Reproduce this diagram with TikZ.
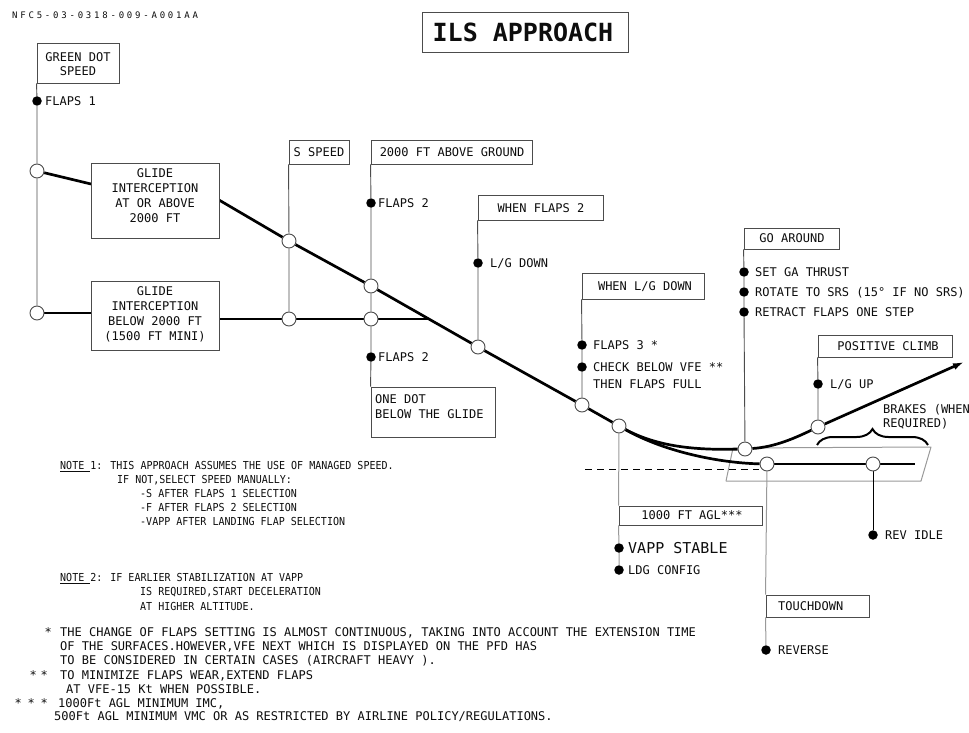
\documentclass[tikz,border=0pt]{standalone}
\usepackage{fontspec}
\setmainfont{DejaVu Sans Mono}
\newfontfamily\notefamily{DejaVu Sans Mono}[FakeStretch=0.91]
\usetikzlibrary{arrows.meta,decorations.pathreplacing}
\definecolor{inkc}{gray}{0.05}
\definecolor{rulec}{gray}{0.3}
\definecolor{lightc}{gray}{0.6}
\pgfdeclarelayer{back}
\pgfsetlayers{back,main}
\makeatletter
\newcommand\spreadtext[2]{\@tfor\spr@c:=#2\do{\makebox[#1][l]{\spr@c}}}
\makeatother

\begin{document}
\begin{tikzpicture}[x=1pt,y=-1pt,
  every node/.style={text=inkc},
  lab/.style={font=\fontsize{12}{15}\selectfont, inner sep=0pt, text height=8.7pt, text depth=0pt, anchor=west},
  blk/.style={font=\fontsize{12}{15}\selectfont, inner sep=0pt, align=center},
  notetext/.style={font=\notefamily\fontsize{11}{14}\selectfont, inner sep=0pt, align=left, anchor=north west},
  tagbox/.style={draw=rulec, line width=0.9pt, fill=white, inner sep=0pt},
  trackline/.style={line width=2.7pt, black},
  stem/.style={line width=0.9pt, rulec},
  stemlight/.style={line width=1pt, lightc},
  ring/.style={circle, draw=rulec, fill=white, line width=0.9pt, minimum size=14pt, inner sep=0pt},
  blob/.style={circle, fill=black, minimum size=9.5pt, inner sep=0pt},
]
\useasboundingbox (0,0) rectangle (969,733);

% ---------- reference number and title ----------
\node[anchor=west, inner sep=0pt, font=\fontsize{9}{10}\selectfont, text height=6.6pt, text depth=0pt] (docref) at (12,15) {\spreadtext{8.2pt}{NFC5-03-0318-009-A001AA}};
\node[tagbox, minimum width=206pt, minimum height=40pt] (titlebox) at (525,32) {};
\node[lab, anchor=center, font=\bfseries\fontsize{25}{30}\selectfont, text height=18.2pt] (title) at (523,32) {ILS APPROACH};

% ---------- event boxes ----------
\node[tagbox, minimum width=82pt, minimum height=40pt] (gds) at (78,63) {};
\node[blk] (gdst) at (78,64) {GREEN DOT\\[-1pt]SPEED};
\node[tagbox, minimum width=128pt, minimum height=75pt] (g1) at (155,200.5) {};
\node[blk] (g1t) at (155,195.5) {GLIDE\\INTERCEPTION\\AT OR ABOVE\\2000 FT};
\node[tagbox, minimum width=128pt, minimum height=69pt] (g2) at (155,315.5) {};
\node[blk] (g2t) at (155,314) {GLIDE\\INTERCEPTION\\BELOW 2000 FT\\(1500 FT MINI)};
\node[tagbox, minimum width=60pt, minimum height=24pt] (sspd) at (319,152) {};
\node[lab, anchor=center] (sspdt) at (319,152) {S SPEED};
\node[tagbox, minimum width=161pt, minimum height=24pt] (b2000) at (451.5,152) {};
\node[lab, anchor=center] (b2000t) at (452,152) {2000 FT ABOVE GROUND};
\node[tagbox, minimum width=125pt, minimum height=25pt] (wf2) at (540.5,207.5) {};
\node[lab, anchor=center] (wf2t) at (541,208) {WHEN FLAPS 2};
\node[tagbox, minimum width=122pt, minimum height=26pt] (wlg) at (643,286) {};
\node[lab, anchor=center] (wlgt) at (645,286) {WHEN L/G DOWN};
\node[tagbox, minimum width=124pt, minimum height=50pt] (onedot) at (433,412) {};
\node[blk, align=left, anchor=north west] (onedott) at (375,394.6) {ONE DOT\\BELOW THE GLIDE};
\node[tagbox, minimum width=95pt, minimum height=21pt] (ga) at (791.5,238.5) {};
\node[lab, anchor=center] (gat) at (792,238.5) {GO AROUND};
\node[tagbox, minimum width=134pt, minimum height=22pt] (pc) at (885,346) {};
\node[lab, anchor=center] (pct) at (888,346) {POSITIVE CLIMB};
\node[tagbox, minimum width=143pt, minimum height=19pt] (agl) at (690.5,515.5) {};
\node[lab, anchor=center] (aglt) at (692,515.5) {1000 FT AGL***};
\node[tagbox, minimum width=103pt, minimum height=22pt] (td) at (817.5,606) {};
\node[lab] (tdt) at (778,606) {TOUCHDOWN};

% ---------- path points ----------
\node[ring] (c1) at (37,171) {};
\node[ring] (c2) at (37,313) {};
\node[ring] (c3) at (289,241) {};
\node[ring] (c4) at (289,319) {};
\node[ring] (c5) at (371,286) {};
\node[ring] (c6) at (371,319) {};
\node[ring] (c7) at (478,347) {};
\node[ring] (c8) at (582,405) {};
\node[ring] (c9) at (619,426) {};
\node[ring] (c10) at (745,449) {};
\node[ring] (c11) at (767,464) {};
\node[ring] (c12) at (818,427) {};
\node[ring] (c13) at (873,464) {};

\coordinate (g1in) at (91,184);
\coordinate (g1out) at (219,200);
\coordinate (g2in) at (91,313);
\coordinate (g2out) at (219,319);
\coordinate (merge) at (430,319);
\coordinate (tip) at (964,362);
\coordinate (gend) at (915,464);
\coordinate (dsh) at (585,469);
\coordinate (dshend) at (759,469);
\coordinate (rw1) at (733,448);
\coordinate (rw2) at (931,447);
\coordinate (rw3) at (921,481);
\coordinate (rw4) at (726,481);
\coordinate (brl) at (817,445);
\coordinate (brr) at (928,445);

% ---------- action dots and their labels ----------
\node[blob] (dF1) at (37,101) {};
\node[lab] (tF1) at (45,101) {FLAPS 1};
\node[blob] (dF2a) at (371,203) {};
\node[lab] (tF2a) at (378,203) {FLAPS 2};
\node[blob] (dF2b) at (371,357) {};
\node[lab] (tF2b) at (378,357) {FLAPS 2};
\node[blob] (dLG) at (478,263) {};
\node[lab] (tLG) at (490,263) {L/G DOWN};
\node[blob] (dF3) at (582,345) {};
\node[lab] (tF3) at (593,345) {FLAPS 3 *};
\node[blob] (dCHK) at (582,367) {};
\node[lab] (tCHK) at (593,367) {CHECK BELOW VFE **};
\node[lab] (tFULL) at (593,384) {THEN FLAPS FULL};
\node[blob] (dGA1) at (744,272) {};
\node[lab] (tGA1) at (755,272) {SET GA THRUST};
\node[blob] (dGA2) at (744,292) {};
\node[lab] (tGA2) at (755,292) {ROTATE TO SRS (15° IF NO SRS)};
\node[blob] (dGA3) at (744,312) {};
\node[lab] (tGA3) at (755,312) {RETRACT FLAPS ONE STEP};
\node[blob] (dLGU) at (818,384) {};
\node[lab] (tLGU) at (830,384) {L/G UP};
\node[blob] (dVAPP) at (619,548) {};
\node[lab, font=\fontsize{15}{18}\selectfont, text height=10.9pt] (tVAPP) at (628,548) {VAPP STABLE};
\node[blob] (dLDG) at (619,570) {};
\node[lab] (tLDG) at (628,570) {LDG CONFIG};
\node[blob] (dRI) at (873,535) {};
\node[lab] (tRI) at (885,535) {REV IDLE};
\node[blob] (dREV) at (766,650) {};
\node[lab] (tREV) at (778,650) {REVERSE};
\node[lab] (tBRK1) at (883,409) {BRAKES (WHEN};
\node[lab] (tBRK2) at (883,423) {REQUIRED)};

% ---------- notes ----------
\node[notetext] (note1) at (60,461) {\underline{NOTE\ }1: THIS APPROACH ASSUMES THE USE OF MANAGED SPEED.\\
\hspace*{57pt}IF NOT,SELECT SPEED MANUALLY:\\
\hspace*{80pt}-S AFTER FLAPS 1 SELECTION\\
\hspace*{80pt}-F AFTER FLAPS 2 SELECTION\\
\hspace*{80pt}-VAPP AFTER LANDING FLAP SELECTION};
\node[notetext, font=\notefamily\fontsize{11}{14.5}\selectfont] (note2) at (60,573) {\underline{NOTE\ }2: IF EARLIER STABILIZATION AT VAPP\\
\hspace*{80pt}IS REQUIRED,START DECELERATION\\
\hspace*{80pt}AT HIGHER ALTITUDE.};

% ---------- footnotes ----------
\node[lab] (fs1) at (44.4,632) {*};
\node[lab] (fn1) at (60,632) {THE CHANGE OF FLAPS SETTING IS ALMOST CONTINUOUS, TAKING INTO ACCOUNT THE EXTENSION TIME};
\node[lab] (fn2) at (60,646) {OF THE SURFACES.HOWEVER,VFE NEXT WHICH IS DISPLAYED ON THE PFD HAS};
\node[lab] (fn3) at (60,660) {TO BE CONSIDERED IN CERTAIN CASES (AIRCRAFT HEAVY ).};
\node[lab] (fs2) at (29.4,675) {*\hspace{3.8pt}*};
\node[lab] (fn4) at (60,675) {TO MINIMIZE FLAPS WEAR,EXTEND FLAPS};
\node[lab] (fn5) at (66,689) {AT VFE-15 Kt WHEN POSSIBLE.};
\node[lab] (fs3) at (14.4,703) {*\hspace{5.8pt}*\hspace{5.8pt}*};
\node[lab] (fn6) at (58,703) {1000Ft AGL MINIMUM IMC,};
\node[lab] (fn7) at (54,716) {500Ft AGL MINIMUM VMC OR AS RESTRICTED BY AIRLINE POLICY/REGULATIONS.};

% ---------- lines behind the nodes ----------
\begin{pgfonlayer}{back}
  % runway outline
  \draw[stemlight, line join=round] (rw1) -- (rw2) -- (rw3) -- (rw4) -- cycle;
  % vertical event lines
  \draw[stem] (gds.south west) -- (dF1) -- (c1) -- (c2);
  \draw[stem] (sspd.south west) -- (c3) -- (c4);
  \draw[stem] (b2000.south west) -- (dF2a) -- (c5) -- (c6) -- (dF2b) -- (onedot.north west);
  \draw[stem] (wf2.south west) -- (dLG) -- (c7);
  \draw[stem] (wlg.south west) -- (dF3) -- (dCHK) -- (c8);
  \draw[stem] (ga.south west) -- (dGA1) -- (dGA2) -- (dGA3) -- (c10);
  \draw[stem] (pc.south west) -- (dLGU) -- (c12);
  \draw[stemlight] (c9) -- (agl.north west);
  \draw[stemlight] (agl.south west) -- (dVAPP) -- (dLDG);
  \draw[stemlight] (c11) -- (td.north west);
  \draw[stemlight] (td.south west) -- (dREV);
  \draw[line width=0.9pt, black] (c13) -- (dRI);
  % ground reference
  \draw[line width=0.8pt, black, dash pattern=on 7pt off 5pt] (dsh) -- (dshend);
  % approach path
  \draw[trackline] (c1) -- (g1in);
  \draw[trackline, line join=round] (g1out) -- (c3) -- (c5) -- (c7) -- (c8) -- (c9);
  \draw[trackline] (c2) -- (g2in);
  \draw[trackline] (g2out) -- (c4) -- (c6) -- (merge);
  \draw[trackline] (c9) .. controls (660,448) and (700,450) .. (c10);
  \draw[trackline] (c9) .. controls (665,452) and (720,463) .. (c11);
  \draw[trackline] (c10) .. controls (775,447) and (795,438) .. (c12);
  \draw[trackline, -{Latex[length=11pt,width=7pt]}] (c12) -- (tip);
  \draw[trackline] (c11) -- (c13) -- (gend);
  % braking segment
  \draw[line width=2pt, black, decorate, decoration={brace, amplitude=16pt}] (brl) -- (brr);
\end{pgfonlayer}
\end{tikzpicture}
\end{document}
